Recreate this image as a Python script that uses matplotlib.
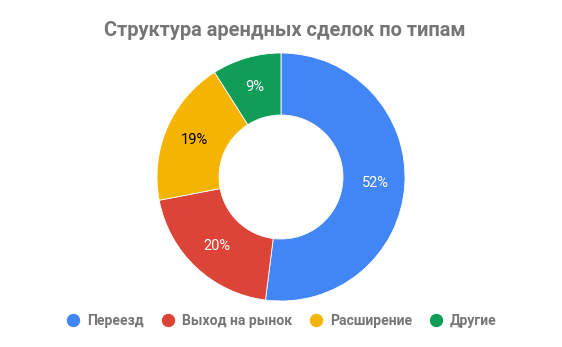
import matplotlib

matplotlib.use("Agg")

import matplotlib.pyplot as plt
from matplotlib.lines import Line2D

title = "Структура арендных сделок по типам"
categories = ["Переезд", "Выход на рынок", "Расширение", "Другие"]
shares = [52, 20, 19, 9]
colors = ["#4285F4", "#DB4437", "#F4B400", "#0F9D58"]
label_colors = ["white", "white", "black", "white"]

plt.rcParams["font.family"] = ["Roboto", "DejaVu Sans"]

W, H = 562, 347
fig = plt.figure(figsize=(W / 100, H / 100), dpi=100)
ax = fig.add_axes([0, 0, 1, 1])

wedges, _, autotexts = ax.pie(
    shares,
    colors=colors,
    startangle=90,
    counterclock=False,
    center=(281, H - 177),
    radius=124,
    autopct="%d%%",
    pctdistance=0.76,
    wedgeprops={"width": 62, "edgecolor": "white", "linewidth": 0.6},
    textprops={"fontsize": 10.5},
)
for text, color in zip(autotexts, label_colors):
    text.set_color(color)

ax.set_xlim(0, W)
ax.set_ylim(0, H)
ax.set_aspect("equal")
ax.axis("off")

fig.text(
    285 / W, 1 - 30 / H, title,
    ha="center", va="center", fontsize=14.4, fontweight="bold", color="#757575",
)

handles = [
    Line2D([], [], marker="o", linestyle="", markersize=8.6,
           markerfacecolor=c, markeredgecolor=c)
    for c in colors
]
fig.legend(
    handles, categories,
    loc="center", bbox_to_anchor=(282 / W, 1 - 321 / H),
    ncol=4, frameon=False, labelcolor="#757575",
    handlelength=0.8, handletextpad=0.6, columnspacing=1.3,
    prop={"weight": "bold", "size": 10.1},
)

fig.savefig("out.png", dpi=100)
